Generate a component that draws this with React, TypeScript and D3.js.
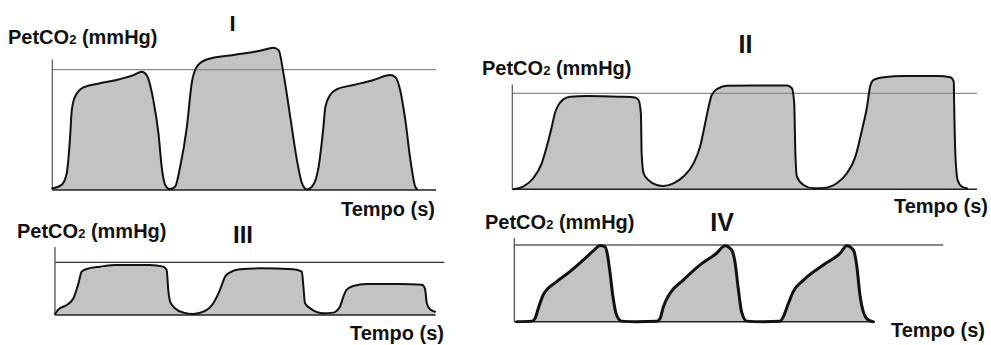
import React from "react";
import * as d3 from "d3";

// ---- Data (time in s, PetCO2 in mmHg; reference line = 40 mmHg) ----
const timeI = [0, 0.29, 0.45, 0.55, 0.61, 0.71, 0.97, 1.49, 2.01, 2.54, 2.8, 2.95, 3.16, 3.32, 3.42, 3.53, 3.68, 3.84, 4.0, 4.21, 4.36, 4.52, 4.83, 5.67, 6.5, 6.92, 7.08, 7.23, 7.44, 7.65, 7.81, 7.96, 8.12, 8.33, 8.48, 8.54, 8.69, 8.9, 9.42, 10.05, 10.57, 10.73, 10.88, 11.04, 11.2, 11.35, 11.41];
const co2I = [0.5, 1.7, 5.5, 16.6, 26.6, 31.0, 34.1, 35.5, 36.6, 38.2, 39.3, 38.2, 29.9, 18.8, 7.8, 1.7, 0.3, 1.1, 7.8, 21.1, 35.5, 41.0, 43.4, 44.9, 46.3, 47.3, 46.5, 38.8, 24.4, 10.0, 2.2, 0.2, 1.1, 7.8, 21.1, 27.7, 31.6, 33.5, 34.9, 36.6, 38.2, 37.5, 33.2, 23.3, 10.0, 1.1, 0.2];

const timeII = [0.03, 0.28, 0.54, 0.76, 0.89, 1.02, 1.1, 1.19, 1.32, 1.49, 1.92, 2.78, 3.17, 3.26, 3.32, 3.34, 3.39, 3.51, 3.73, 3.9, 4.16, 4.42, 4.68, 4.85, 4.98, 5.07, 5.15, 5.32, 5.54, 6.23, 7.09, 7.22, 7.28, 7.31, 7.35, 7.52, 7.78, 8.12, 8.38, 8.64, 8.86, 9.03, 9.16, 9.24, 9.33, 9.59, 10.11, 10.97, 11.31, 11.4, 11.41, 11.44, 11.5, 11.61, 11.74];
const co2II = [0, 1.1, 4.6, 10.8, 17.8, 26.1, 31.7, 35.1, 37.5, 38.6, 38.9, 38.6, 38.3, 37.2, 31.7, 15.0, 6.7, 3.9, 1.8, 1.4, 2.5, 5.3, 10.8, 17.8, 27.5, 34.4, 39.3, 42.1, 43.1, 43.3, 43.2, 42.1, 35.8, 15.0, 5.3, 1.8, 0.4, 0.7, 2.5, 6.7, 13.6, 24.7, 34.4, 42.8, 45.6, 46.7, 47.2, 47.2, 46.7, 44.9, 35.8, 15.0, 3.9, 1.1, 0.4];

const timeIII = [0, 0.11, 0.37, 0.58, 0.74, 0.84, 1.0, 1.42, 1.94, 2.99, 3.41, 3.52, 3.57, 3.63, 3.78, 4.05, 4.36, 4.68, 4.99, 5.2, 5.36, 5.52, 5.83, 6.46, 7.51, 7.78, 7.83, 7.88, 8.09, 8.46, 8.77, 8.98, 9.09, 9.19, 9.4, 9.82, 10.88, 11.56, 11.66, 11.72, 11.82, 11.98];
const co2III = [0.8, 4.3, 7.6, 12.7, 24.1, 32.9, 34.9, 36.7, 38.0, 38.0, 36.7, 34.2, 19.0, 10.1, 5.1, 1.8, 0.8, 2.5, 8.9, 19.0, 29.1, 32.4, 34.7, 35.4, 34.7, 32.9, 21.5, 8.9, 4.3, 1.3, 1.8, 6.3, 13.9, 19.0, 22.0, 23.5, 23.5, 23.0, 20.3, 8.9, 4.3, 2.5];

const timeIV = [0.08, 0.58, 0.69, 0.8, 0.96, 1.41, 1.85, 2.3, 2.68, 2.85, 3.02, 3.09, 3.18, 3.29, 3.4, 3.57, 4.07, 4.74, 4.85, 4.96, 5.18, 5.62, 6.18, 6.73, 7.01, 7.23, 7.34, 7.45, 7.56, 7.73, 8.28, 8.84, 8.95, 9.12, 9.28, 9.62, 10.28, 10.84, 11.06, 11.28, 11.39, 11.5, 11.61, 11.78, 11.94];
const co2IV = [0, 0.3, 1.7, 7.0, 13.9, 20.9, 26.1, 32.2, 37.7, 39.8, 39.1, 35.7, 26.1, 12.2, 3.5, 0.3, 0, 0.2, 1.7, 7.8, 14.8, 21.7, 29.6, 35.7, 39.6, 37.4, 31.3, 17.4, 5.2, 0.3, 0, 0.2, 2.6, 9.6, 15.7, 21.7, 29.6, 35.7, 39.6, 37.4, 29.6, 13.9, 5.2, 0.9, 0];

const panelTitles = ["I", "II", "III", "IV"];
const yLabel = "PetCO";
const xLabel = "Tempo (s)";
const refValue = 40;

// ---- Layout ----
type Panel = {
  t: number[]; v: number[]; title: string;
  x0: number; x1: number; yBase: number; yRef: number; yTopVal: number; refEnd: number;
  refColor: string; axisColor: string; lineW: number;
  label: [number, number]; titlePos: [number, number, number]; tempo: [number, number];
};

const panels: Panel[] = [
  { t: timeI, v: co2I, title: panelTitles[0], x0: 52.3, x1: 436, yBase: 190, yRef: 69.7, yTopVal: 43.4, refEnd: 12,
    refColor: "#8a8a8a", axisColor: "#555", lineW: 2, label: [8, 44], titlePos: [232.5, 30.5, 22], tempo: [435, 216] },
  { t: timeII, v: co2II, title: panelTitles[1], x0: 512.3, x1: 977, yBase: 189.3, yRef: 93.3, yTopVal: 43.7, refEnd: 12,
    refColor: "#8a8a8a", axisColor: "#555", lineW: 2, label: [482, 75], titlePos: [745.5, 53, 25], tempo: [988, 213] },
  { t: timeIII, v: co2III, title: panelTitles[2], x0: 55, x1: 435.7, yBase: 315, yRef: 262.3, yTopVal: 51.6, refEnd: 12.27,
    refColor: "#333", axisColor: "#444", lineW: 2, label: [17, 238], titlePos: [243, 243, 24], tempo: [444, 340] },
  { t: timeIV, v: co2IV, title: panelTitles[3], x0: 514.3, x1: 875, yBase: 321.7, yRef: 245, yTopVal: 43.6, refEnd: 14.27,
    refColor: "#111", axisColor: "#444", lineW: 3, label: [485, 229], titlePos: [722, 231, 25], tempo: [985, 337] },
];

const FONT = "'Liberation Sans', Arial, Helvetica, sans-serif";

function PanelView({ p }: { p: Panel }) {
  const x = d3.scaleLinear().domain([0, 12]).range([p.x0, p.x1]);
  const y = d3.scaleLinear().domain([0, refValue]).range([p.yBase, p.yRef]);
  const pts: [number, number][] = p.t.map((t, i) => [t, p.v[i]]);
  const area = d3.area<[number, number]>()
    .x((d) => x(d[0])).y0(y(0)).y1((d) => y(d[1]))
    .curve(d3.curveMonotoneX);
  const line = d3.line<[number, number]>()
    .x((d) => x(d[0])).y((d) => y(d[1]))
    .curve(d3.curveMonotoneX);
  return (
    <g>
      <path d={area(pts) ?? ""} fill="#c3c3c3" stroke="none" />
      <line x1={x(0)} x2={x(p.refEnd)} y1={y(refValue)} y2={y(refValue)} stroke={p.refColor} strokeWidth={1.2} />
      <line x1={x(0)} x2={x(0)} y1={y(0)} y2={y(p.yTopVal)} stroke={p.axisColor} strokeWidth={1.2} />
      <line x1={x(0)} x2={x(12)} y1={y(0)} y2={y(0)} stroke="#222" strokeWidth={1.6} />
      <path d={line(pts) ?? ""} fill="none" stroke="#111" strokeWidth={p.lineW} strokeLinejoin="round" strokeLinecap="round" />
      <text x={p.label[0]} y={p.label[1]} fontFamily={FONT} fontWeight="bold" fontSize={20} fill="#111">
        {yLabel}
        <tspan fontSize={13}>2</tspan>
        <tspan> (mmHg)</tspan>
      </text>
      <text x={p.titlePos[0]} y={p.titlePos[1]} fontFamily={FONT} fontWeight="bold" fontSize={p.titlePos[2]} textAnchor="middle" fill="#111">
        {p.title}
      </text>
      <text x={p.tempo[0]} y={p.tempo[1]} fontFamily={FONT} fontWeight="bold" fontSize={20} textAnchor="end" fill="#111">
        {xLabel}
      </text>
    </g>
  );
}

export default function App() {
  return (
    <svg width={991} height={345} viewBox="0 0 991 345"
      style={{ position: "absolute", left: 0, top: 0, background: "#fff" }}>
      <rect x={0} y={0} width={991} height={345} fill="#fff" />
      {panels.map((p, i) => <PanelView key={i} p={p} />)}
    </svg>
  );
}
